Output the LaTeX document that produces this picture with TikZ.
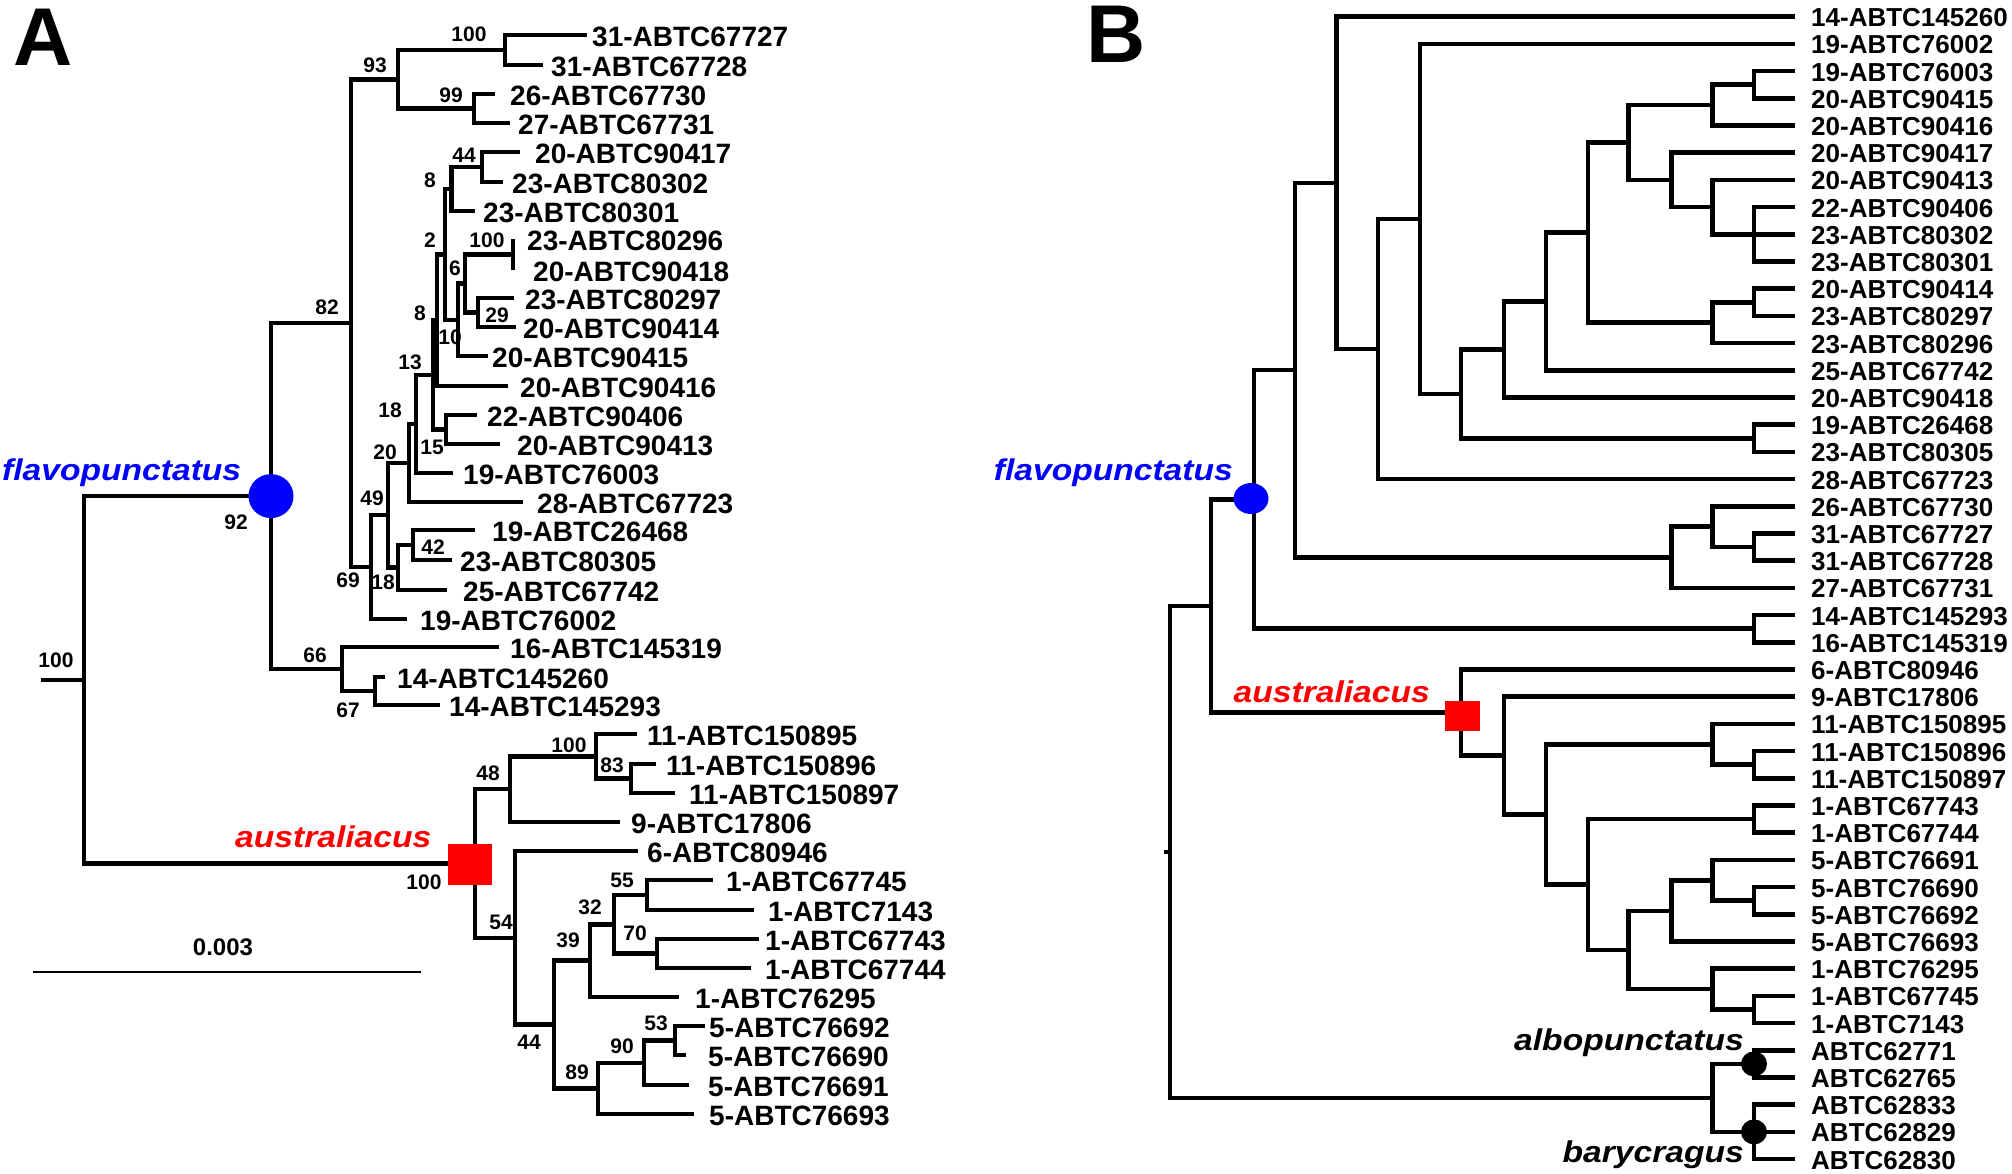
\documentclass[tikz,border=0pt]{standalone}
\usepackage{fontspec}
\setmainfont{Liberation Sans}
\newfontfamily\spfont[FakeStretch=1.12]{Liberation Sans}
\usetikzlibrary{shapes.geometric}
\definecolor{flavoblue}{RGB}{0,0,255}
\definecolor{ausred}{RGB}{255,0,0}
\newcommand\lfA[5]{\coordinate (#1) at (#2,#3); \node[leafA] (#1t) at ({#4},{#3+2}) {#5};}
\newcommand\lfB[3]{\coordinate (#1) at (1795,#2); \node[leafB] (#1t) at (1811,{#2+1}) {#3};}
\newcommand\edges[2]{\foreach \ch in {#2} {\draw[br] (#1) |- (\ch);}}
\begin{document}
\begin{tikzpicture}[x=1pt,y=-1pt,
  br/.style={line width=4.5pt, line join=miter},
  leafA/.style={anchor=west, inner sep=0pt, font=\fontsize{28}{30}\selectfont\bfseries},
  leafB/.style={anchor=west, inner sep=0pt, font=\fontsize{26}{28}\selectfont\bfseries},
  sup/.style={inner sep=0pt, font=\fontsize{21}{23}\selectfont\bfseries},
  spname/.style={inner sep=0pt, font=\fontsize{30}{32}\selectfont\spfont\bfseries\itshape},
  panel/.style={anchor=north west, inner sep=0pt, font=\fontsize{82}{84}\selectfont\bfseries},
  marker/.style={inner sep=0pt, draw=none},
]
\useasboundingbox (0,0) rectangle (2012,1173);

% ---------------- Panel A ----------------
\node[panel] (pA) at (13,9) {A};

\lfA{A1}{587}{35}{592}{31-ABTC67727}
\lfA{A2}{543}{65}{551}{31-ABTC67728}
\lfA{A3}{495}{94}{510}{26-ABTC67730}
\lfA{A4}{510}{123}{518}{27-ABTC67731}
\lfA{A5}{520}{152}{535}{20-ABTC90417}
\lfA{A6}{503}{182}{512}{23-ABTC80302}
\lfA{A7}{475}{211}{483}{23-ABTC80301}
\lfA{A8}{513}{239}{527}{23-ABTC80296}
\lfA{A9}{513}{270}{533}{20-ABTC90418}
\lfA{A10}{514}{298}{525}{23-ABTC80297}
\lfA{A11}{516}{327}{523}{20-ABTC90414}
\lfA{A12}{488}{356}{492}{20-ABTC90415}
\lfA{A13}{508}{386}{520}{20-ABTC90416}
\lfA{A14}{477}{415}{487}{22-ABTC90406}
\lfA{A15}{500}{444}{517}{20-ABTC90413}
\lfA{A16}{453}{473}{463}{19-ABTC76003}
\lfA{A17}{523}{502}{537}{28-ABTC67723}
\lfA{A18}{475}{530}{492}{19-ABTC26468}
\lfA{A19}{452}{560}{460}{23-ABTC80305}
\lfA{A20}{447}{590}{463}{25-ABTC67742}
\lfA{A21}{407}{619}{420}{19-ABTC76002}
\lfA{A22}{499}{647}{510}{16-ABTC145319}
\lfA{A23}{385}{677}{397}{14-ABTC145260}
\lfA{A24}{440}{705}{449}{14-ABTC145293}
\lfA{A25}{637}{734}{647}{11-ABTC150895}
\lfA{A26}{656}{764}{666}{11-ABTC150896}
\lfA{A27}{675}{793}{689}{11-ABTC150897}
\lfA{A28}{620}{822}{631}{9-ABTC17806}
\lfA{A29}{638}{851}{647}{6-ABTC80946}
\lfA{A30}{713}{880}{726}{1-ABTC67745}
\lfA{A31}{754}{910}{768}{1-ABTC7143}
\lfA{A32}{759}{939}{765}{1-ABTC67743}
\lfA{A33}{751}{968}{765}{1-ABTC67744}
\lfA{A34}{679}{997}{695}{1-ABTC76295}
\lfA{A35}{705}{1026}{709}{5-ABTC76692}
\lfA{A36}{686}{1055}{708}{5-ABTC76690}
\lfA{A37}{689}{1085}{708}{5-ABTC76691}
\lfA{A38}{694}{1114}{709}{5-ABTC76693}

\coordinate (a100a) at (505,50);
\coordinate (a99) at (474,108.5);
\coordinate (a93) at (398,79.25);
\coordinate (a44) at (482,167);
\coordinate (a8a) at (451.7,189);
\coordinate (a100b) at (513,254.5);
\coordinate (a29) at (478,312.5);
\coordinate (a6) at (465,283.5);
\coordinate (a10) at (458,319.75);
\coordinate (a2) at (445,254.4);
\coordinate (aY) at (437,320.2);
\coordinate (a15) at (446,429.5);
\coordinate (aX) at (433,374.85);
\coordinate (a13) at (416,423.9);
\coordinate (a18a) at (409,462.96);
\coordinate (a42) at (413,545);
\coordinate (a18b) at (398,567.5);
\coordinate (a20) at (388,515.2);
\coordinate (a49) at (371,567.1);
\coordinate (a82) at (351,323.2);
\coordinate (a67) at (375,691);
\coordinate (a66) at (342,669);
\coordinate (a92) at (271,496.1);
\coordinate (a83) at (631,778.5);
\coordinate (a100c) at (596,756.25);
\coordinate (a48) at (510,789.1);
\coordinate (a55) at (647,895);
\coordinate (a70) at (657,953.5);
\coordinate (a32) at (614,924.25);
\coordinate (a39) at (590,960.6);
\coordinate (a53) at (675,1040.5);
\coordinate (a90) at (644,1062.75);
\coordinate (a89) at (598,1088.4);
\coordinate (a44b) at (554,1024.5);
\coordinate (a54) at (515,937.75);
\coordinate (aAus) at (475,863.4);
\coordinate (aRoot) at (84,679.75);
\coordinate (aStub) at (41,679.75);

\edges{a100a}{A1,A2}
\edges{a99}{A3,A4}
\edges{a93}{a100a,a99}
\edges{a44}{A5,A6}
\edges{a8a}{a44,A7}
\edges{a100b}{A8,A9}
\edges{a29}{A10,A11}
\edges{a6}{a100b,a29}
\edges{a10}{a6,A12}
\edges{a2}{a8a,a10}
\edges{aY}{a2,A13}
\edges{a15}{A14,A15}
\edges{aX}{aY,a15}
\edges{a13}{aX,A16}
\edges{a18a}{a13,A17}
\edges{a42}{A18,A19}
\edges{a18b}{a42,A20}
\edges{a20}{a18a,a18b}
\edges{a49}{a20,A21}
\edges{a82}{a93,a49}
\edges{a67}{A23,A24}
\edges{a66}{A22,a67}
\edges{a92}{a82,a66}
\edges{a83}{A26,A27}
\edges{a100c}{A25,a83}
\edges{a48}{a100c,A28}
\edges{a55}{A30,A31}
\edges{a70}{A32,A33}
\edges{a32}{a55,a70}
\edges{a39}{a32,A34}
\edges{a53}{A35,A36}
\edges{a90}{a53,A37}
\edges{a89}{a90,A38}
\edges{a44b}{a39,a89}
\edges{a54}{A29,a44b}
\edges{aAus}{a48,a54}
\edges{aRoot}{a92,aAus}
\draw[br] (aStub) -- (aRoot);

\foreach \x/\y/\t [count=\i] in {469/34/100, 375/65/93, 451/95/99, 464/155/44, 430/180/8,
  430/240/2, 487/240/100, 455/268/6, 420/313/8, 327/307/82, 497/315/29, 450/337/10,
  410/362/13, 390/410/18, 432/447/15, 385/452/20, 372/498/49, 433/547/42, 348/580/69,
  383/582/18, 236/522/92, 315/655/66, 56/660/100, 348/710/67, 569/745/100, 612/765/83,
  488/773/48, 424/882/100, 622/880/55, 590/907/32, 501/922/54, 635/933/70, 568/940/39,
  656/1023/53, 529/1042/44, 622/1046/90, 577/1072/89}
  {\node[sup] (s\i) at (\x,\y) {\t};}

\node[marker, ellipse, fill=flavoblue, minimum width=45pt, minimum height=44pt] (mA1) at (a92) {};
\node[marker, rectangle, fill=ausred, minimum width=44pt, minimum height=41pt] (mA2) at (470,864) {};
\node[spname, text=flavoblue, anchor=base west] (spA1) at (2,480) {flavopunctatus};
\node[spname, text=ausred, anchor=base west] (spA2) at (235,847) {australiacus};

\coordinate (sb1) at (33,972);
\coordinate (sb2) at (421,972);
\draw[line width=2.5pt] (sb1) -- (sb2);
\node[inner sep=0pt, font=\fontsize{24}{26}\selectfont\bfseries] (sbl) at (223,947) {0.003};

% ---------------- Panel B ----------------
\node[panel] (pB) at (1086,6) {B};

\lfB{B1}{16.7}{14-ABTC145260}
\lfB{B2}{43.9}{19-ABTC76002}
\lfB{B3}{71.1}{19-ABTC76003}
\lfB{B4}{98.3}{20-ABTC90415}
\lfB{B5}{125.5}{20-ABTC90416}
\lfB{B6}{152.7}{20-ABTC90417}
\lfB{B7}{179.9}{20-ABTC90413}
\lfB{B8}{207.1}{22-ABTC90406}
\lfB{B9}{234.3}{23-ABTC80302}
\lfB{B10}{261.5}{23-ABTC80301}
\lfB{B11}{288.7}{20-ABTC90414}
\lfB{B12}{315.9}{23-ABTC80297}
\lfB{B13}{343.1}{23-ABTC80296}
\lfB{B14}{370.3}{25-ABTC67742}
\lfB{B15}{397.5}{20-ABTC90418}
\lfB{B16}{424.7}{19-ABTC26468}
\lfB{B17}{451.9}{23-ABTC80305}
\lfB{B18}{479.1}{28-ABTC67723}
\lfB{B19}{506.3}{26-ABTC67730}
\lfB{B20}{533.5}{31-ABTC67727}
\lfB{B21}{560.7}{31-ABTC67728}
\lfB{B22}{587.9}{27-ABTC67731}
\lfB{B23}{615.1}{14-ABTC145293}
\lfB{B24}{642.3}{16-ABTC145319}
\lfB{B25}{669.5}{6-ABTC80946}
\lfB{B26}{696.7}{9-ABTC17806}
\lfB{B27}{723.9}{11-ABTC150895}
\lfB{B28}{751.1}{11-ABTC150896}
\lfB{B29}{778.3}{11-ABTC150897}
\lfB{B30}{805.5}{1-ABTC67743}
\lfB{B31}{832.7}{1-ABTC67744}
\lfB{B32}{859.9}{5-ABTC76691}
\lfB{B33}{887.1}{5-ABTC76690}
\lfB{B34}{914.3}{5-ABTC76692}
\lfB{B35}{941.5}{5-ABTC76693}
\lfB{B36}{968.7}{1-ABTC76295}
\lfB{B37}{995.9}{1-ABTC67745}
\lfB{B38}{1023.1}{1-ABTC7143}
\lfB{B39}{1050.3}{ABTC62771}
\lfB{B40}{1077.5}{ABTC62765}
\lfB{B41}{1104.7}{ABTC62833}
\lfB{B42}{1131.9}{ABTC62829}
\lfB{B43}{1159.1}{ABTC62830}

\coordinate (bRoot) at (1170,852);
\coordinate (bStub) at (1164,852);
\coordinate (bF0) at (1211,606);
\coordinate (bFLAV) at (1254,499.4);
\coordinate (bD) at (1295,370.1);
\coordinate (bE) at (1336.5,182.85);
\coordinate (bF) at (1378,349);
\coordinate (bG) at (1420,218.9);
\coordinate (bH) at (1461,393.9);
\coordinate (bI) at (1504,349.5);
\coordinate (bJ) at (1546,301.45);
\coordinate (bK) at (1588,232.6);
\coordinate (bL) at (1628.5,142.5);
\coordinate (bN3) at (1712.6,105.1);
\coordinate (bO3) at (1754,84.7);
\coordinate (bM6) at (1671.5,179.9);
\coordinate (bN7) at (1712.6,207.1);
\coordinate (bO8) at (1754,234.3);
\coordinate (bN13) at (1712.6,322.7);
\coordinate (bO11) at (1754,302.3);
\coordinate (bO16) at (1754,438.3);
\coordinate (bM1) at (1671.5,557.3);
\coordinate (bN19) at (1712.6,526.7);
\coordinate (bO20) at (1754,547.1);
\coordinate (bQ) at (1754,628.7);
\coordinate (bAUS) at (1461,712.5);
\coordinate (bI2) at (1504,755.55);
\coordinate (bJ2) at (1546,814.4);
\coordinate (bN27) at (1712.6,744.3);
\coordinate (bO28) at (1754,764.7);
\coordinate (bK2) at (1588,884.55);
\coordinate (bO30) at (1754,819.1);
\coordinate (bL2) at (1628.5,950);
\coordinate (bM32) at (1671.5,910.9);
\coordinate (bN32) at (1712.6,880.3);
\coordinate (bO33) at (1754,900.7);
\coordinate (bN36) at (1712.6,989.1);
\coordinate (bO37) at (1754,1009.5);
\coordinate (bOUT) at (1712.6,1097.9);
\coordinate (bO39) at (1754,1063.9);
\coordinate (bO41) at (1754,1131.9);

\edges{bRoot}{bF0,bOUT}
\edges{bF0}{bFLAV,bAUS}
\edges{bFLAV}{bD,bQ}
\edges{bD}{bE,bM1}
\edges{bE}{B1,bF}
\edges{bF}{bG,B18}
\edges{bG}{B2,bH}
\edges{bH}{bI,bO16}
\edges{bI}{bJ,B15}
\edges{bJ}{bK,B14}
\edges{bK}{bL,bN13}
\edges{bN13}{bO11,B13}
\edges{bO11}{B11,B12}
\edges{bL}{bN3,bM6}
\edges{bN3}{bO3,B5}
\edges{bO3}{B3,B4}
\edges{bM6}{B6,bN7}
\edges{bN7}{B7,bO8}
\edges{bO8}{B8,B9,B10}
\edges{bO16}{B16,B17}
\edges{bM1}{bN19,B22}
\edges{bN19}{B19,bO20}
\edges{bO20}{B20,B21}
\edges{bQ}{B23,B24}
\edges{bAUS}{B25,bI2}
\edges{bI2}{B26,bJ2}
\edges{bJ2}{bN27,bK2}
\edges{bN27}{B27,bO28}
\edges{bO28}{B28,B29}
\edges{bK2}{bO30,bL2}
\edges{bO30}{B30,B31}
\edges{bL2}{bM32,bN36}
\edges{bM32}{bN32,B35}
\edges{bN32}{B32,bO33}
\edges{bO33}{B33,B34}
\edges{bN36}{B36,bO37}
\edges{bO37}{B37,B38}
\edges{bOUT}{bO39,bO41}
\edges{bO39}{B39,B40}
\edges{bO41}{B41,B42,B43}
\draw[br] (bStub) -- (bRoot);

\node[marker, ellipse, fill=flavoblue, minimum width=35pt, minimum height=31pt] (mB1) at (1251,498.5) {};
\node[marker, rectangle, fill=ausred, minimum width=35pt, minimum height=30pt] (mB2) at (1462,716) {};
\node[marker, ellipse, fill=black, minimum width=26pt, minimum height=25pt] (mB3) at (bO39) {};
\node[marker, ellipse, fill=black, minimum width=26pt, minimum height=25pt] (mB4) at (bO41) {};

\node[spname, text=flavoblue, anchor=base east] (spB1) at (1233,480) {flavopunctatus};
\node[spname, text=ausred, anchor=base east] (spB2) at (1430,702) {australiacus};
\node[spname, anchor=base east] (spB3) at (1744,1050) {albopunctatus};
\node[spname, anchor=base east] (spB4) at (1744,1162) {barycragus};
\end{tikzpicture}
\end{document}
